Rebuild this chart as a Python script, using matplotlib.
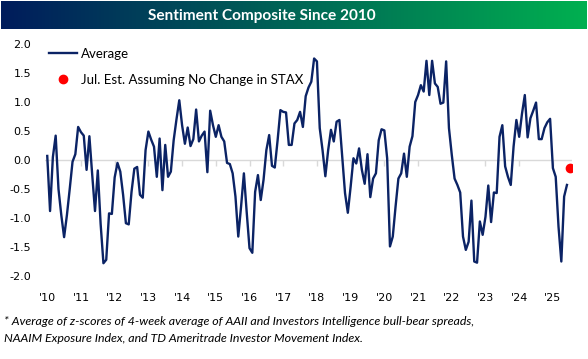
import numpy as np
import matplotlib.pyplot as plt
from matplotlib.lines import Line2D

plt.rcParams['axes.unicode_minus'] = False

# Chỉ số tâm lý trung bình theo tháng, từ 01/2010 đến 06/2025
avg = [0.07, -0.88, 0.05, 0.42, -0.5, -0.95, -1.33, -0.95, -0.5, -0.03, 0.1, 0.57,
       0.48, 0.42, -0.17, 0.41, -0.25, -0.88, -0.18, -1.1, -1.78, -1.72, -0.92, -0.93,
       -0.3, -0.05, -0.2, -0.6, -1.09, -1.11, -0.55, -0.15, -0.12, -0.6, -0.65, 0.17,
       0.49, 0.35, 0.23, -0.29, 0.37, -0.52, 0.26, -0.29, -0.2, 0.34, 0.7, 1.03,
       0.6, 0.28, 0.56, 0.24, 0.36, 0.87, 0.32, 0.42, 0.49, -0.21, 0.85, 0.6,
       0.40, 0.60, 0.40, 0.32, -0.05, -0.07, -0.23, -0.63, -1.32, -0.8, -0.23, -0.9,
       -1.52, -1.6, -0.55, -0.26, -0.69, -0.34, 0.17, 0.43, -0.1, -0.13, 0.34, 0.86,
       0.83, 0.82, 0.26, 0.26, 0.63, 0.69, 0.83, 0.57, 1.1, 1.25, 1.35, 1.75,
       1.70, 0.55, 0.17, -0.28, 0.17, 0.52, 0.32, 0.66, 0.69, 0.06, -0.57, -0.91,
       -0.46, 0.03, -0.06, 0.2, -0.17, -0.41, 0.10, -0.64, -0.32, -0.23, 0.34, 0.53,
       0.51, 0.03, -1.49, -1.32, -0.80, -0.32, -0.23, 0.11, -0.29, 0.23, 0.41, 1.0,
       1.12, 1.29, 1.18, 1.71, 1.12, 1.71, 1.32, 1.26, 0.97, 0.99, 1.70, 0.55,
       0.09, -0.32, -0.43, -0.56, -1.32, -1.55, -1.41, -0.70, -1.75, -1.77, -1.06, -1.29,
       -0.98, -0.44, -1.07, -0.56, -0.57, 0.40, 0.60, -0.11, -0.29, -0.43, 0.23, 0.69,
       0.40, 0.80, 1.12, 0.39, 0.72, 0.85, 0.99, 0.36, 0.36, 0.55, 0.65, 0.71,
       -0.14, -0.29, -1.15, -1.75, -0.63, -0.43]
months = np.arange(len(avg))

# Ước tính tháng 7/2025
est_month = [len(avg)]
est_value = [-0.13]

years = list(range(2010, 2026))
year_labels = ["'" + str(y)[2:] for y in years]
year_ticks = [12 * (y - 2010) for y in years]
y_ticks = [-2.0, -1.5, -1.0, -0.5, 0.0, 0.5, 1.0, 1.5, 2.0]

navy = '#0b2365'
grid = '#d9d9d9'

fig = plt.figure(figsize=(5.88, 3.59), dpi=100)

# Thanh tiêu đề có màu chuyển từ xanh đậm sang xanh lá
banner = fig.add_axes([0.002, 1 - 29 / 359, 0.996, 28 / 359])
c0 = np.array([0, 28, 92]) / 255
c1 = np.array([0, 176, 80]) / 255
t = np.linspace(0, 1, 256)[:, None]
grad = (c0 + (c1 - c0) * t)[None, :, :]
banner.imshow(grad, aspect='auto', extent=[0, 1, 0, 1])
banner.set_axis_off()
banner.text(0.445, 0.48, 'Sentiment Composite Since 2010', color='white',
            fontsize=11.1, fontweight='bold', family='Lato',
            ha='center', va='center')

# Vùng vẽ chính
ax = fig.add_axes([45 / 588, 1 - 276 / 359, 527 / 588, 232 / 359])
ax.plot(months, avg, color=navy, lw=1.7, zorder=3)
ax.plot(est_month, est_value, 'o', color='#ff0000', ms=6, zorder=3)

ax.set_xlim(-0.8, 186.8)
ax.set_ylim(-2, 2)
ax.set_yticks(y_ticks)
ax.set_yticklabels(['%.1f' % v for v in y_ticks])
ax.set_xticks(year_ticks)
ax.set_xticklabels(year_labels)
ax.tick_params(axis='both', length=0, labelsize=8, labelcolor='#000000')
ax.tick_params(axis='x', pad=12)
ax.tick_params(axis='y', pad=10)
for s in ax.spines.values():
    s.set_visible(False)

# Đường 0 và vạch năm
ax.axhline(0, color=grid, lw=1, zorder=1)
sec = ax.secondary_xaxis(0.49999)
sec.set_xticks(year_ticks)
sec.tick_params(length=4, width=1, color=grid, labelbottom=False, direction='out')
sec.spines['bottom'].set_visible(False)

# Chú thích
handles = [Line2D([], [], color=navy, lw=1.7),
           Line2D([], [], marker='o', color='#ff0000', ls='none', ms=6)]
ax.legend(handles, ['Average', 'Jul. Est. Assuming No Change in STAX'],
          loc='upper left', bbox_to_anchor=(0.0, 1.0), frameon=False,
          prop={'family': 'Lato', 'size': 9.5}, labelspacing=1.05,
          handlelength=2.1, handletextpad=0.3, borderaxespad=0.1, borderpad=0.2)

fig.text(0.007, 1 - 330 / 359,
         '* Average of z-scores of 4-week average of AAII and Investors Intelligence bull-bear spreads,\n'
         'NAAIM Exposure Index, and TD Ameritrade Investor Movement Index.',
         family='Lato', style='italic', fontsize=8.9, ha='left', va='center',
         linespacing=1.6)

fig.savefig('out.png', dpi=100)
